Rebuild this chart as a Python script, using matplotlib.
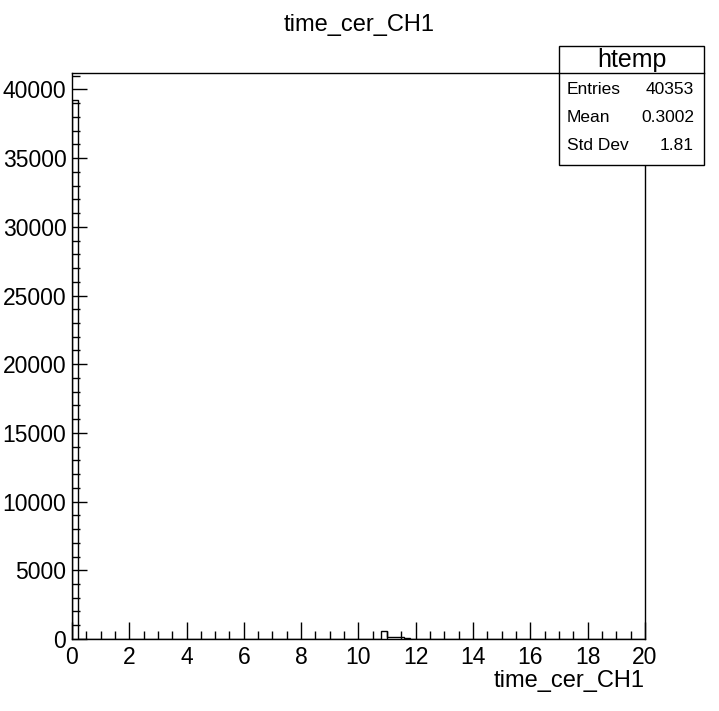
import numpy as np
import matplotlib
matplotlib.use("Agg")
import matplotlib.pyplot as plt
from matplotlib.patches import Rectangle
from matplotlib.ticker import MultipleLocator

plt.rcParams['font.family'] = ['Liberation Sans', 'DejaVu Sans']

# histogram: 100 bins on [0, 20]
n_bins, x_lo, x_hi = 100, 0.0, 20.0
# non-empty bins (bin index -> entries)
filled_bins = [0, 54, 55, 56, 57, 58]
filled_counts = [39233, 560, 120, 180, 180, 80]

stats_name = "htemp"
stats_labels = ["Entries", "Mean", "Std Dev"]
stats_values = ["40353", "0.3002", "1.81"]
title = "time_cer_CH1"
xlabel = "time_cer_CH1"

edges = np.linspace(x_lo, x_hi, n_bins + 1)
counts = np.zeros(n_bins)
counts[filled_bins] = filled_counts

fig = plt.figure(figsize=(7.19, 7.11), dpi=100)
ax = fig.add_axes([0.1, 0.1013, 0.797, 0.796])

ax.stairs(counts, edges, color='black', linewidth=1.0, baseline=0)
ax.set_xlim(x_lo, x_hi)
ax.set_ylim(0, counts.max() * 1.05)

ax.xaxis.set_major_locator(MultipleLocator(2))
ax.xaxis.set_minor_locator(MultipleLocator(0.5))
ax.yaxis.set_major_locator(MultipleLocator(5000))
ax.yaxis.set_minor_locator(MultipleLocator(1000))
ax.tick_params(which='both', direction='in', top=False, right=False,
               labelsize=16.5, width=1.0, color='black')
ax.tick_params(axis='x', which='major', length=12, pad=5)
ax.tick_params(axis='y', which='major', length=11, pad=4)
ax.tick_params(which='minor', length=6)
for s in ax.spines.values():
    s.set_linewidth(1.0)

ax.set_xlabel(xlabel, fontsize=17, loc='right', labelpad=1)
fig.text(0.5, 0.965, title, ha='center', va='center', fontsize=17)

# stats box
bx0, bx1 = 559 / 719, 704 / 719
by_top, by_sep, by_bot = 1 - 45.5 / 711, 1 - 73.3 / 711, 1 - 164.5 / 711
fig.patches.append(Rectangle((bx0, by_bot), bx1 - bx0, by_top - by_bot,
                             transform=fig.transFigure, facecolor='white',
                             edgecolor='black', linewidth=1.0, zorder=5))
fig.lines.append(plt.Line2D([bx0, bx1], [by_sep, by_sep],
                            transform=fig.transFigure, color='black',
                            linewidth=1.0, zorder=6))
fig.text((bx0 + bx1) / 2, 1 - 60 / 711, stats_name, ha='center', va='center',
         fontsize=18, zorder=7)
row_y = [90, 118, 146]
for lab, val, y in zip(stats_labels, stats_values, row_y):
    fig.text(567 / 719, 1 - y / 711, lab, ha='left', va='center',
             fontsize=12.5, zorder=7)
    fig.text(694 / 719, 1 - y / 711, val, ha='right', va='center',
             fontsize=12.5, zorder=7)

fig.savefig("out.png", dpi=100)
